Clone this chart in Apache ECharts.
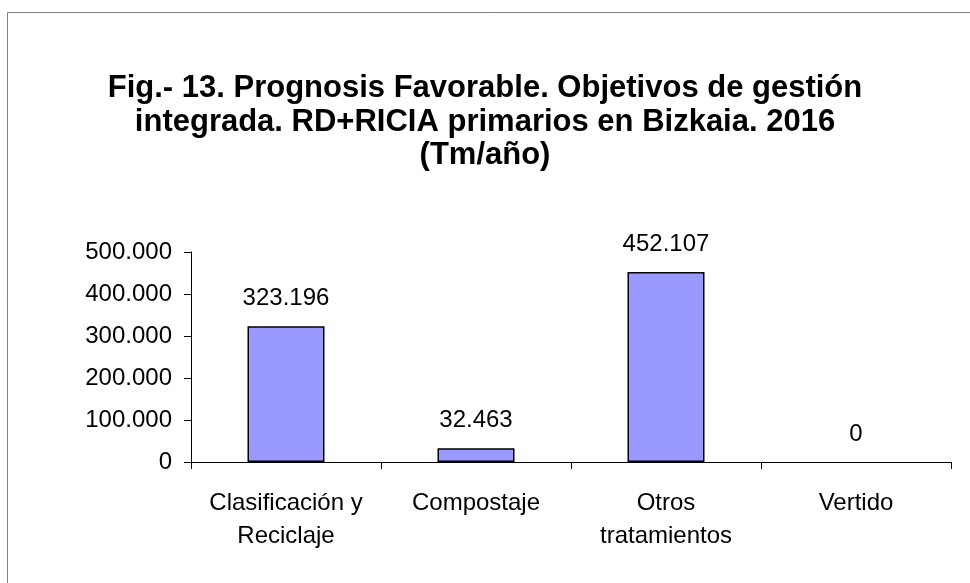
<!DOCTYPE html>
<html>
<head>
<meta charset="utf-8">
<script src="https://cdn.jsdelivr.net/npm/echarts@6/dist/echarts.min.js"></script>
<style>
html,body{margin:0;padding:0;background:#fff;}
#chart{width:970px;height:583px;}
</style>
</head>
<body>
<div id="chart"></div>
<script>
const categories = ['Clasificación y\nReciclaje', 'Compostaje', 'Otros\ntratamientos', 'Vertido'];
const values = [323196, 32463, 452107, 0];
const yTicks = [0, 100000, 200000, 300000, 400000, 500000];
const titleText = 'Fig.- 13. Prognosis Favorable. Objetivos de gestión\nintegrada. RD+RICIA primarios en Bizkaia. 2016\n(Tm/año)';

function fmt(v) {
  return String(v).replace(/\B(?=(\d{3})+(?!\d))/g, '.');
}

const FONT = 'Liberation Sans, Arial, sans-serif';
const chart = echarts.init(document.getElementById('chart'));
chart.setOption({
  animation: false,
  backgroundColor: '#fff',
  graphic: [{
    type: 'rect',
    shape: {x: 7.5, y: 12.5, width: 1000, height: 1000},
    style: {fill: 'none', stroke: '#808080', lineWidth: 1},
    silent: true
  }],
  title: {
    text: titleText,
    left: 'center',
    top: 67,
    textStyle: {
      fontFamily: FONT,
      fontWeight: 'bold',
      fontSize: 31,
      lineHeight: 33.5,
      color: '#000'
    }
  },
  grid: {left: 191, right: 19, top: 252, bottom: 121, containLabel: false},
  xAxis: {
    type: 'category',
    data: categories,
    boundaryGap: true,
    axisLine: {lineStyle: {color: '#000', width: 1}},
    axisTick: {show: true, alignWithLabel: false, length: 7, lineStyle: {color: '#000'}},
    axisLabel: {
      interval: 0,
      margin: 25,
      fontFamily: FONT,
      fontSize: 24,
      lineHeight: 33,
      color: '#000'
    }
  },
  yAxis: {
    type: 'value',
    min: yTicks[0],
    max: yTicks[yTicks.length - 1],
    interval: yTicks[1] - yTicks[0],
    axisLine: {show: true, lineStyle: {color: '#000', width: 1}},
    axisTick: {show: true, length: 7, lineStyle: {color: '#000'}},
    splitLine: {show: false},
    axisLabel: {
      margin: 19,
      formatter: v => fmt(v),
      fontFamily: FONT,
      fontSize: 24,
      color: '#000'
    }
  },
  series: [{
    type: 'bar',
    data: values.map(v => v === 0 ? {value: v, itemStyle: {borderWidth: 0}} : v),
    barWidth: 77,
    itemStyle: {color: '#9999FF', borderColor: '#000', borderWidth: 1.5},
    label: {
      show: true,
      position: 'top',
      distance: 16,
      formatter: p => fmt(p.value),
      fontFamily: FONT,
      fontSize: 24,
      color: '#000'
    }
  }]
});
</script>
</body>
</html>
